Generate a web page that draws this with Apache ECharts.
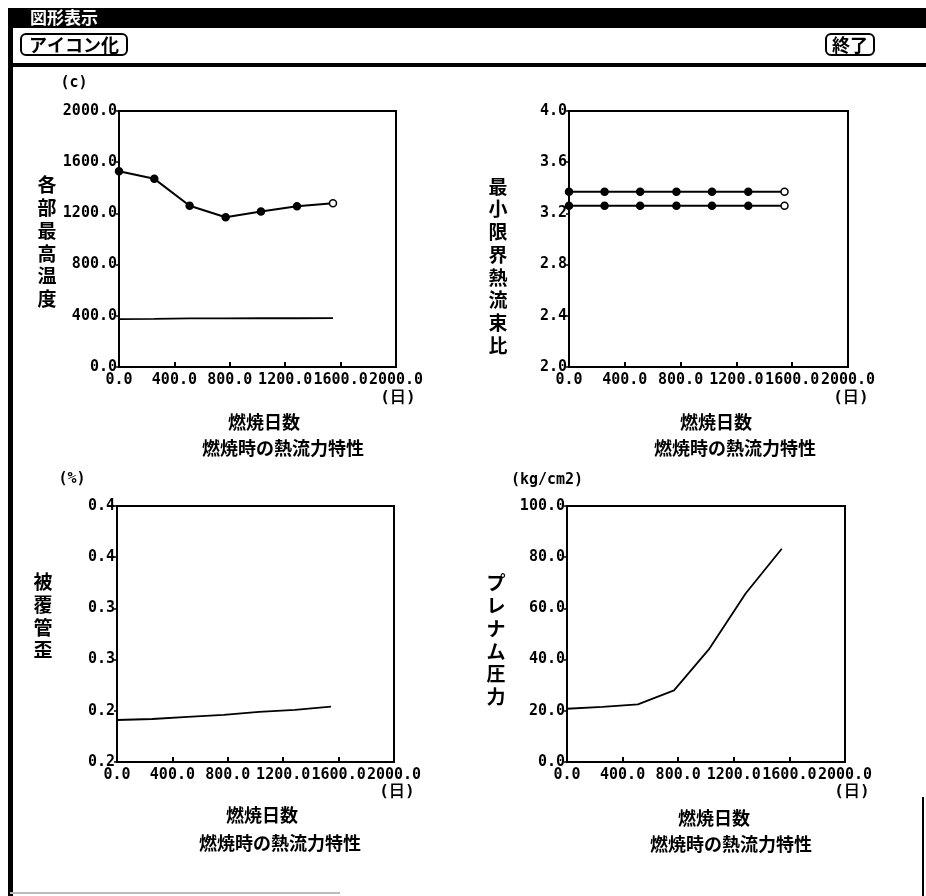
<!DOCTYPE html>
<html>
<head>
<meta charset="utf-8">
<script src="https://cdn.jsdelivr.net/npm/echarts@6/dist/echarts.min.js"></script>
<style>
  html, body { margin: 0; padding: 0; background: #fff; }
  #main { width: 926px; height: 896px; }
</style>
</head>
<body>
<div id="main"></div>
<script>
// 燃焼日数 (x) — 全グラフ共通
var days = [0, 255, 510, 770, 1025, 1285, 1545];

// 各部最高温度 (c)
var tempMax = [1530, 1470, 1260, 1170, 1215, 1255, 1280];
var tempLow = [374, 376, 380, 380, 381, 381, 382];

// 最小限界熱流束比
var mchfrUpper = [3.37, 3.37, 3.37, 3.37, 3.37, 3.37, 3.37];
var mchfrLower = [3.26, 3.26, 3.26, 3.26, 3.26, 3.26, 3.26];

// 被覆管歪 (%)
var cladStrain = [0.191, 0.192, 0.194, 0.196, 0.199, 0.201, 0.204];

// プレナム圧力 (kg/cm2)
var plenumPressure = [20.8, 21.5, 22.5, 28.0, 44.3, 65.8, 83.3];

// 目盛ラベル
var xTickLabels = ['0.0', '400.0', '800.0', '1200.0', '1600.0', '2000.0'];
var tempTicks = ['0.0', '400.0', '800.0', '1200.0', '1600.0', '2000.0'];
var mchfrTicks = ['2.0', '2.4', '2.8', '3.2', '3.6', '4.0'];
var strainTicks = ['0.2', '0.2', '0.3', '0.3', '0.4', '0.4'];
var pressureTicks = ['0.0', '20.0', '40.0', '60.0', '80.0', '100.0'];

var MONO = '"DejaVu Sans Mono", "Liberation Mono", monospace';
var JP = '"Noto Sans CJK JP", "Noto Sans CJK SC", sans-serif';

var chart = echarts.init(document.getElementById('main'));

// グラフ枠の位置
var grids = [
  { left: 119, top: 111, width: 277, height: 256 },
  { left: 569, top: 111, width: 279, height: 256 },
  { left: 117, top: 506, width: 277, height: 256 },
  { left: 567, top: 506, width: 278, height: 256 }
];
var yRanges = [
  { min: 0, max: 2000, interval: 400, labels: tempTicks, lift: 4 },
  { min: 2.0, max: 4.0, interval: 0.4, labels: mchfrTicks, lift: 4 },
  { min: 0.15, max: 0.40, interval: 0.05, labels: strainTicks, lift: 10 },
  { min: 0, max: 100, interval: 20, labels: pressureTicks, lift: 7 }
];

function pairs(ys) {
  return days.map(function (d, i) { return [d, ys[i]]; });
}
// 最後の点は白抜き
function markedPairs(ys) {
  return days.map(function (d, i) {
    var item = { value: [d, ys[i]] };
    if (i === days.length - 1) item.itemStyle = { color: '#fff' };
    return item;
  });
}

var xAxes = grids.map(function (g, i) {
  return {
    type: 'value', gridIndex: i, min: 0, max: 2000, interval: 400,
    axisLine: { show: true, lineStyle: { color: '#000', width: 2 } },
    axisTick: { show: true, inside: true, length: 5, lineStyle: { color: '#000', width: 2 } },
    splitLine: { show: false },
    axisLabel: {
      color: '#000', fontFamily: MONO, fontWeight: 'bold', fontSize: 15, margin: 6,
      formatter: function (v, idx) { return xTickLabels[idx]; }
    }
  };
});
var yAxes = yRanges.map(function (r, i) {
  return {
    type: 'value', gridIndex: i, min: r.min, max: r.max, interval: r.interval,
    axisLine: { show: true, lineStyle: { color: '#000', width: 2 } },
    axisTick: { show: true, length: 3, lineStyle: { color: '#000', width: 1.5 } },
    splitLine: { show: false },
    axisLabel: {
      color: '#000', fontFamily: MONO, fontWeight: 'bold', fontSize: 15, margin: 2,
      padding: [0, 0, r.lift, 0],
      formatter: function (v, idx) { return r.labels[idx]; }
    }
  };
});

function txt(text, x, y, font, extra) {
  var st = { text: text, x: x, y: y, font: font, fill: '#000',
    align: 'center', verticalAlign: 'middle', textAlign: 'center', textVerticalAlign: 'middle' };
  if (extra) for (var k in extra) st[k] = extra[k];
  return { type: 'text', z: 10, style: st };
}

var panelTexts = [
  { unit: '(c)', ux: 74, uy: 83, name: '各部最高温度', nx: 47, ny: 242, hx: 398, hy: 398, dx: 264, dy: 422, sx: 283, sy: 448 },
  { unit: '', ux: 0, uy: 0, name: '最小限界熱流束比', nx: 498, ny: 266, hx: 851, hy: 398, dx: 716, dy: 422, sx: 735, sy: 448 },
  { unit: '(%)', ux: 72, uy: 479, name: '被覆管歪', nx: 43, ny: 616, hx: 397, hy: 792, dx: 262, dy: 815, sx: 280, sy: 843 },
  { unit: '(kg/cm2)', ux: 547, uy: 480, name: 'プレナム圧力', nx: 496, ny: 640, hx: 852, hy: 792, dx: 714, dy: 818, sx: 731, sy: 844 }
];

var graphics = [
  // ウィンドウ枠
  { type: 'rect', shape: { x: 10, y: 8, width: 916, height: 20 }, style: { fill: '#000' } },
  txt('図形表示', 64, 18, 'bold 17px ' + JP, { fill: '#fff' }),
  { type: 'rect', shape: { x: 8, y: 8, width: 5, height: 888 }, style: { fill: '#000' } },
  { type: 'rect', shape: { x: 21, y: 34, width: 106, height: 21, r: 5 }, style: { fill: 'none', stroke: '#000', lineWidth: 2 } },
  txt('アイコン化', 74, 45, 'bold 18px ' + JP),
  { type: 'rect', shape: { x: 826, y: 34, width: 48, height: 21, r: 5 }, style: { fill: 'none', stroke: '#000', lineWidth: 2 } },
  txt('終了', 850, 45, 'bold 18px ' + JP),
  { type: 'rect', shape: { x: 10, y: 63, width: 916, height: 4 }, style: { fill: '#000' } },
  { type: 'rect', shape: { x: 10, y: 892, width: 330, height: 2 }, style: { fill: '#bbb' } },
  { type: 'rect', shape: { x: 922, y: 797, width: 2, height: 99 }, style: { fill: '#000' } }
];
panelTexts.forEach(function (p) {
  if (p.unit) graphics.push(txt(p.unit, p.ux, p.uy, 'bold 15px ' + MONO));
  graphics.push(txt(p.name.split('').join('\n'), p.nx, p.ny, 'bold 19px ' + JP, { lineHeight: 22.7 }));
  graphics.push(txt('(日)', p.hx, p.hy, 'bold 16px ' + MONO));
  graphics.push(txt('燃焼日数', p.dx, p.dy, 'bold 18px ' + JP));
  graphics.push(txt('燃焼時の熱流力特性', p.sx, p.sy, 'bold 18px ' + JP));
});

var markerSeries = {
  type: 'line', symbol: 'circle', symbolSize: 7, showSymbol: true,
  lineStyle: { color: '#000', width: 2 },
  itemStyle: { color: '#000', borderColor: '#000', borderWidth: 1.5 },
  animation: false
};
function withData(base, xi, data) {
  var s = {};
  for (var k in base) s[k] = base[k];
  s.xAxisIndex = xi; s.yAxisIndex = xi; s.data = data;
  return s;
}
var plainLine = {
  type: 'line', symbol: 'none', lineStyle: { color: '#000', width: 1.8 }, animation: false
};

var option = {
  backgroundColor: '#fff',
  animation: false,
  grid: grids.map(function (g) {
    return { left: g.left, top: g.top, width: g.width, height: g.height,
      show: true, borderColor: '#000', borderWidth: 2, backgroundColor: 'transparent' };
  }),
  xAxis: xAxes,
  yAxis: yAxes,
  series: [
    withData(markerSeries, 0, markedPairs(tempMax)),
    withData(plainLine, 0, pairs(tempLow)),
    withData(markerSeries, 1, markedPairs(mchfrUpper)),
    withData(markerSeries, 1, markedPairs(mchfrLower)),
    withData(plainLine, 2, pairs(cladStrain)),
    withData(plainLine, 3, pairs(plenumPressure))
  ],
  graphic: graphics
};
chart.setOption(option);
</script>
</body>
</html>
